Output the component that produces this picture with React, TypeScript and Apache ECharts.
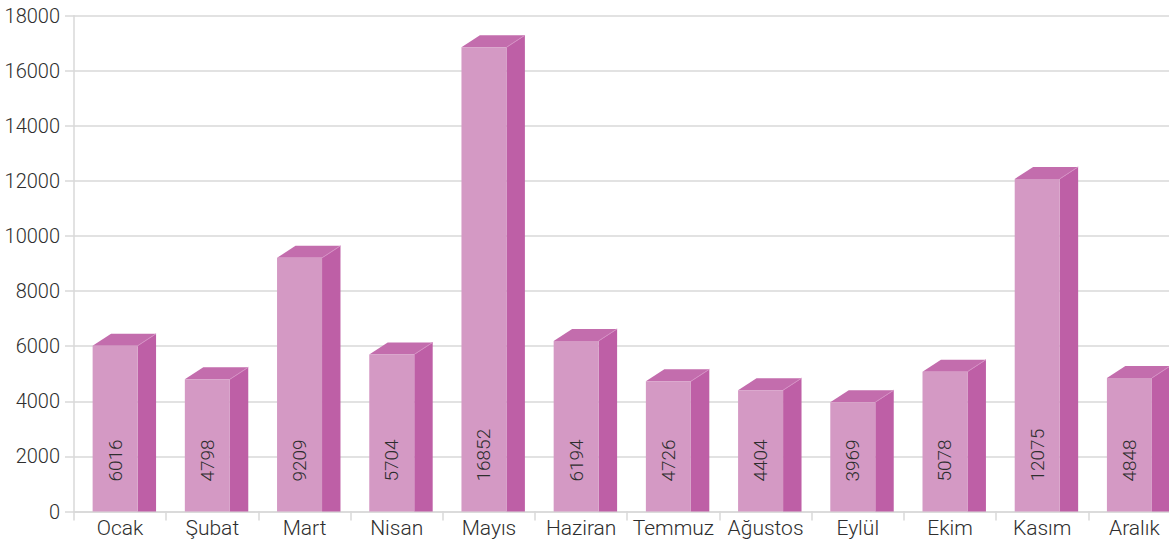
import React, { useEffect, useRef } from "react";
import * as echarts from "echarts";

const months = ["Ocak", "Şubat", "Mart", "Nisan", "Mayıs", "Haziran", "Temmuz", "Ağustos", "Eylül", "Ekim", "Kasım", "Aralık"];
const values = [6016, 4798, 9209, 5704, 16852, 6194, 4726, 4404, 3969, 5078, 12075, 4848];
const yMax = 18000;
const yStep = 2000;

const FONT = "Roboto, 'Liberation Sans', sans-serif";
const FRONT = "#D499C4";
const SIDE = "#BE5FA6";
const TOP = "#C36DAD";
const GRID = "#D8D8D8";
const TEXT = "#2e2e2e";

export default function App() {
  const ref = useRef<HTMLDivElement>(null);
  useEffect(() => {
    document.body.style.margin = "0";
    document.body.style.overflow = "hidden";
    const chart = echarts.init(ref.current!, null, { renderer: "svg" });
    chart.setOption({
      animation: false,
      backgroundColor: "#ffffff",
      grid: { left: 74, right: -11.5, top: 15.7, bottom: 32.5, containLabel: false, outerBoundsMode: "none" },
      xAxis: {
        type: "category",
        data: months,
        axisLine: { show: true, lineStyle: { color: GRID, width: 1.5 } },
        axisTick: { show: true, length: 9, interval: 0, lineStyle: { color: GRID, width: 1.5 } },
        axisLabel: { color: TEXT, fontSize: 21, fontFamily: FONT, fontWeight: 300, margin: 6, interval: 0 },
      },
      yAxis: {
        type: "value",
        min: 0,
        max: yMax,
        interval: yStep,
        axisLine: { show: true, lineStyle: { color: GRID, width: 1.5 } },
        axisTick: { show: true, length: 9, lineStyle: { color: GRID, width: 1.5 } },
        splitLine: { show: true, lineStyle: { color: GRID, width: 1.5 } },
        axisLabel: {
          color: TEXT,
          fontSize: 20,
          fontFamily: FONT,
          fontWeight: 300,
          margin: 14,
          formatter: (v: number) => String(v),
        },
      },
      series: [
        {
          type: "custom",
          data: values.map((v, i) => [i, v]),
          encode: { x: 0, y: 1 },
          renderItem: (params: any, api: any) => {
            const idx = api.value(0);
            const v = api.value(1);
            const top = api.coord([idx, v]);
            const base = api.coord([idx, 0]);
            const bw = api.size([1, 0])[0];
            const fl = top[0] - 0.298 * bw;
            const fw = 0.488 * bw;
            const fr = fl + fw;
            const dx = 0.2 * bw;
            const dy = 12;
            return {
              type: "group",
              children: [
                {
                  type: "polygon",
                  shape: { points: [[fr, top[1]], [fr + dx, top[1] - dy], [fr + dx, base[1]], [fr, base[1]]] },
                  style: { fill: SIDE },
                },
                {
                  type: "polygon",
                  shape: { points: [[fl, top[1]], [fl + dx, top[1] - dy], [fr + dx, top[1] - dy], [fr, top[1]]] },
                  style: { fill: TOP },
                },
                {
                  type: "line",
                  shape: { x1: fr, y1: top[1], x2: fr + dx, y2: top[1] - dy },
                  style: { stroke: "#D58FC4", lineWidth: 1 },
                },
                {
                  type: "rect",
                  shape: { x: fl, y: top[1], width: fw, height: base[1] - top[1] },
                  style: { fill: FRONT },
                },
                {
                  type: "text",
                  x: fl + fw / 2,
                  y: base[1] - 30,
                  rotation: Math.PI / 2,
                  style: {
                    text: String(v),
                    fill: TEXT,
                    fontSize: 19,
                    fontFamily: FONT,
                    fontWeight: 300,
                    align: "left",
                    verticalAlign: "middle",
                  },
                },
              ],
            };
          },
        },
      ],
    });
    return () => chart.dispose();
  }, []);
  return <div ref={ref} style={{ width: 1169, height: 544 }} />;
}
